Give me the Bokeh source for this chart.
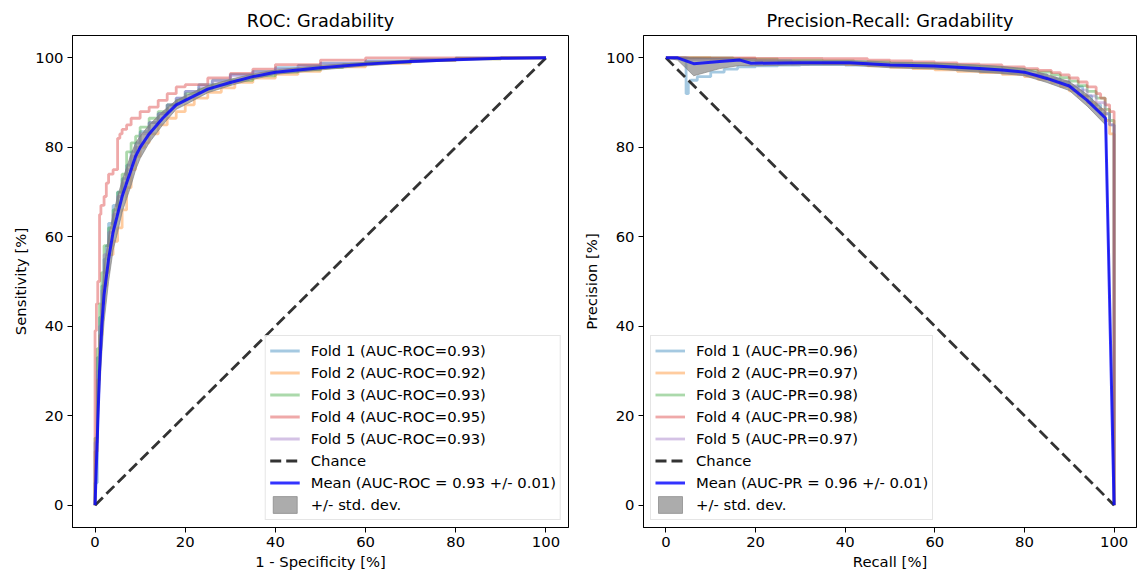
from bokeh.plotting import figure
from bokeh.models import Range1d, FixedTicker, Legend, LegendItem
from bokeh.layouts import row
from bokeh.embed import file_html
from bokeh.resources import INLINE

FONT = "DejaVu Sans"
FOLD_COLORS = ["#1f77b4", "#ff7f0e", "#2ca02c", "#d62728", "#9467bd"]
TICKS = [0, 20, 40, 60, 80, 100]

# ---------------- ROC data (percent) ----------------
roc_fold_labels = ["Fold 1 (AUC-ROC=0.93)", "Fold 2 (AUC-ROC=0.92)", "Fold 3 (AUC-ROC=0.93)",
                   "Fold 4 (AUC-ROC=0.95)", "Fold 5 (AUC-ROC=0.93)"]
roc_f1_x = [0, 0.5, 0.5, 1, 1.5, 2, 2.5, 3, 4, 5, 6, 7, 8, 9, 10, 12, 14, 16, 18, 20, 23, 26, 30, 35, 40, 45, 50, 60, 70, 80, 90, 100]
roc_f1_y = [0, 5, 20, 33, 42, 49, 55, 58, 63, 67, 70, 73, 76, 79, 81, 83.5, 85.5, 87.5, 89.5, 91, 92.5, 94, 95, 96.3, 97, 97.8, 98.3, 98.8, 99.3, 99.7, 100, 100]
roc_f2_x = [0, 0.5, 1, 1.5, 2, 2.5, 3, 4, 5, 6, 7, 8, 9, 10, 11, 12, 14, 16, 18, 20, 22, 25, 28, 31, 35, 40, 45, 50, 60, 70, 80, 90, 100]
roc_f2_y = [0, 12, 28, 38, 45, 49, 52, 56, 59, 62, 66, 71, 75, 78, 80, 81, 83, 85, 86.5, 88, 89.5, 91, 92.3, 93.3, 94.5, 95.5, 96.3, 97, 98, 98.8, 99.4, 99.8, 100]
roc_f3_x = [0, 0.5, 1, 1.5, 2, 3, 4, 5, 6, 7, 8, 9, 10, 12, 14, 16, 18, 20, 23, 26, 30, 35, 40, 45, 50, 55, 60, 70, 80, 90, 100]
roc_f3_y = [0, 15, 35, 45, 52, 58, 62, 66, 70, 74, 79, 81, 82.5, 84.5, 86.5, 88, 89.5, 90.5, 92, 93, 94, 95, 96, 96.8, 97.3, 97.8, 98.5, 99, 99.5, 99.8, 100]
roc_f4_x = [0, 0, 0.3, 0.6, 1, 1.3, 2, 2.5, 3, 4, 5, 5.5, 6, 7, 8, 10, 12, 14, 16, 18, 20, 25, 30, 35, 40, 50, 60, 70, 80, 100]
roc_f4_y = [0, 25, 39, 45, 50, 65, 67, 69, 72, 74, 75, 82, 83, 84, 85, 86.5, 88, 89, 90.5, 92, 93.5, 94, 95.5, 96.5, 97.5, 98.5, 99.5, 100, 100, 100]
roc_f5_x = [0, 0.5, 1, 1.5, 2, 3, 4, 5, 6, 7, 8, 9, 10, 12, 14, 16, 18, 20, 23, 26, 30, 35, 40, 45, 50, 60, 70, 80, 90, 100]
roc_f5_y = [0, 14, 30, 40, 48, 56, 61, 65, 69, 72, 75, 78, 80, 83, 85.5, 87.5, 89.5, 91, 92.5, 93.5, 94.8, 96, 96.8, 97.5, 98, 98.7, 99.2, 99.6, 99.9, 100]

roc_mean_x = [0, 0.5, 1, 1.5, 2, 3, 4, 5, 6, 7, 8, 9, 10, 12, 15, 18, 20, 25, 30, 35, 40, 50, 60, 70, 80, 90, 100]
roc_mean_y = [0, 15, 30, 40, 47, 55, 61, 65, 69, 72, 75, 78, 80, 83, 86.5, 89.5, 90.5, 93, 94.5, 95.8, 96.8, 97.8, 98.6, 99.2, 99.6, 99.9, 100]
roc_upper = [0, 18, 35, 46, 53, 60, 65, 69, 72.5, 75.5, 78.5, 81, 82.5, 85, 88, 90.5, 91.5, 93.8, 95.2, 96.4, 97.3, 98.3, 99, 99.5, 99.8, 100, 100]
roc_lower = [0, 12, 25, 34, 41, 50, 57, 61, 65.5, 68.5, 71.5, 75, 77.5, 81, 85, 88.5, 89.5, 92.2, 93.8, 95.2, 96.3, 97.3, 98.2, 98.9, 99.4, 99.8, 100]
roc_mean_label = "Mean (AUC-ROC = 0.93 +/- 0.01)"
roc_chance_x = [0, 100]
roc_chance_y = [0, 100]

# ---------------- PR data (percent) ----------------
pr_fold_labels = ["Fold 1 (AUC-PR=0.96)", "Fold 2 (AUC-PR=0.97)", "Fold 3 (AUC-PR=0.98)",
                  "Fold 4 (AUC-PR=0.98)", "Fold 5 (AUC-PR=0.97)"]
pr_f1_x = [0, 4.5, 5, 5.5, 7, 10, 13, 16, 20, 25, 30, 35, 40, 45, 50, 55, 60, 65, 70, 75, 80, 85, 88, 90, 93, 95, 97, 99, 100, 100]
pr_f1_y = [100, 92, 94.5, 95, 95.8, 96.8, 97.5, 98, 98.2, 98.4, 98.5, 98.5, 98.4, 98.3, 98.1, 97.9, 97.7, 97.4, 97, 96.6, 96.2, 95.3, 94.5, 93.5, 91.5, 89.5, 87.5, 85, 83, 0]
pr_f2_x = [0, 10, 20, 25, 30, 35, 40, 45, 50, 55, 60, 65, 70, 75, 80, 83, 86, 88, 90, 92, 94, 96, 98, 99, 100, 100]
pr_f2_y = [100, 99.8, 99.4, 99.1, 98.9, 98.7, 98.5, 98.2, 97.9, 97.6, 97.3, 97, 96.7, 96.3, 95.8, 95.2, 94.4, 93.6, 92.6, 91.5, 90, 88.5, 86, 83, 78, 0]
pr_f3_x = [0, 15, 25, 35, 42, 50, 55, 60, 65, 70, 75, 80, 83, 86, 88, 90, 92, 94, 96, 98, 99, 100, 100]
pr_f3_y = [100, 99.7, 99.5, 99.3, 99.1, 98.8, 98.6, 98.4, 98.1, 97.8, 97.5, 97.2, 96.8, 96.2, 95.6, 94.8, 93.8, 92.5, 91, 88.5, 86, 84, 0]
pr_f4_x = [0, 20, 35, 45, 50, 55, 60, 65, 70, 75, 80, 83, 86, 88, 90, 92, 94, 96, 97, 98, 99, 100, 100]
pr_f4_y = [100, 99.9, 99.8, 99.5, 99.3, 99.1, 98.9, 98.6, 98.4, 98, 97.6, 97.2, 96.7, 96.2, 95.5, 94.6, 93.5, 92, 91, 89.5, 88, 86, 0]
pr_f5_x = [0, 5, 10, 20, 28, 32, 40, 45, 50, 55, 60, 65, 70, 75, 80, 84, 87, 90, 92, 94, 96, 98, 99, 100, 100]
pr_f5_y = [100, 99.6, 99.7, 99.4, 98.6, 98.8, 98.9, 98.6, 98.4, 98.1, 97.9, 97.6, 97.2, 96.8, 96.3, 95.6, 94.8, 93.8, 92.8, 91.5, 90, 87.5, 85, 82, 0]

pr_mean_x = [0, 2.6, 6.2, 12, 16.5, 19, 30, 41, 45, 50, 60, 70, 75, 80, 85, 90, 94, 98.1, 100]
pr_mean_y = [100, 100, 98.7, 99.2, 99.5, 98.8, 98.9, 98.9, 98.7, 98.4, 98.2, 97.6, 97.3, 96.8, 95.4, 93.7, 90.5, 86.5, 0]
pr_upper = [100, 100, 100, 99.9, 99.9, 99.5, 99.4, 99.4, 99.3, 99, 98.9, 98.4, 98.1, 97.6, 96.3, 94.7, 91.8, 88, 0]
pr_lower = [100, 99.5, 96, 97.6, 98.3, 98.2, 98.4, 98.4, 98.1, 97.8, 97.5, 96.8, 96.5, 96, 94.5, 92.7, 89.2, 85, 0]
pr_mean_label = "Mean (AUC-PR = 0.96 +/- 0.01)"
pr_chance_x = [0, 100]
pr_chance_y = [100, 0]

chance_label = "Chance"
std_label = "+/- std. dev."

BIG = "14.8px"


def make_fig(title, xlabel, ylabel, width, left, right):
    p = figure(width=width, height=572, x_range=Range1d(-5, 105), y_range=Range1d(-5, 105),
               output_backend="svg", toolbar_location=None, title=title,
               min_border_left=left, min_border_right=right, min_border_top=35, min_border_bottom=44)
    p.title.text_font = FONT
    p.title.text_font_size = "17.7px"
    p.title.text_font_style = "normal"
    p.title.text_color = "black"
    p.title.align = "center"
    p.title.standoff = 10
    p.grid.visible = False
    p.outline_line_color = "black"
    p.outline_line_alpha = 1
    p.outline_line_width = 1
    p.background_fill_color = "white"
    p.border_fill_color = "white"
    for ax, lab in ((p.xaxis[0], xlabel), (p.yaxis[0], ylabel)):
        ax.ticker = FixedTicker(ticks=TICKS)
        ax.axis_label = lab
        ax.axis_label_text_font = FONT
        ax.axis_label_text_font_size = BIG
        ax.axis_label_text_font_style = "normal"
        ax.axis_label_text_color = "black"
        ax.axis_label_standoff = 3
        ax.major_label_text_font = FONT
        ax.major_label_text_font_size = BIG
        ax.major_label_text_color = "black"
        ax.major_label_standoff = 4
        ax.major_tick_out = 5
        ax.major_tick_in = 0
        ax.minor_tick_out = 0
        ax.minor_tick_in = 0
        ax.axis_line_color = "black"
        ax.major_tick_line_color = "black"
    return p


def fill_plot(p, folds, labels, mode, mean_x, mean_y, upper, lower, mean_label, chance_x, chance_y, loc):
    items = []
    for (fx, fy), lab, col in zip(folds, labels, FOLD_COLORS):
        r = p.step(fx, fy, mode=mode, line_color=col, line_alpha=0.4, line_width=2.8)
        items.append(LegendItem(label=lab, renderers=[r]))
    rc = p.line(chance_x, chance_y, line_color="#333333", line_width=2.8, line_dash="11 5")
    band = p.patch(list(mean_x) + list(mean_x)[::-1], list(upper) + list(lower)[::-1],
                   fill_color="grey", fill_alpha=0.65, line_color="grey", line_alpha=0.65, line_width=1)
    rm = p.line(mean_x, mean_y, line_color="#0000ff", line_alpha=0.8, line_width=3)
    items.append(LegendItem(label=chance_label, renderers=[rc]))
    items.append(LegendItem(label=mean_label, renderers=[rm]))
    items.append(LegendItem(label=std_label, renderers=[band]))
    leg = Legend(items=items, location=loc)
    leg.label_text_font = FONT
    leg.label_text_font_size = BIG
    leg.label_text_color = "black"
    leg.glyph_width = 30
    leg.glyph_height = 21
    leg.label_height = 21
    leg.label_standoff = 11
    leg.spacing = 1
    leg.padding = 4
    leg.margin = 7
    leg.background_fill_color = "white"
    leg.background_fill_alpha = 0.8
    leg.border_line_color = "#cccccc"
    leg.border_line_width = 1
    p.add_layout(leg)


p1 = make_fig("ROC: Gradability", "1 - Specificity [%]", "Sensitivity [%]", 574, 72, 6)
fill_plot(p1, [(roc_f1_x, roc_f1_y), (roc_f2_x, roc_f2_y), (roc_f3_x, roc_f3_y),
               (roc_f4_x, roc_f4_y), (roc_f5_x, roc_f5_y)],
          roc_fold_labels, "before", roc_mean_x, roc_mean_y, roc_upper, roc_lower,
          roc_mean_label, roc_chance_x, roc_chance_y, "bottom_right")

p2 = make_fig("Precision-Recall: Gradability", "Recall [%]", "Precision [%]", 564, 69, 2)
fill_plot(p2, [(pr_f1_x, pr_f1_y), (pr_f2_x, pr_f2_y), (pr_f3_x, pr_f3_y),
               (pr_f4_x, pr_f4_y), (pr_f5_x, pr_f5_y)],
          pr_fold_labels, "after", pr_mean_x, pr_mean_y, pr_upper, pr_lower,
          pr_mean_label, pr_chance_x, pr_chance_y, "bottom_left")

layout = row(p1, p2)
open("out.html", "w").write(file_html(layout, INLINE))
